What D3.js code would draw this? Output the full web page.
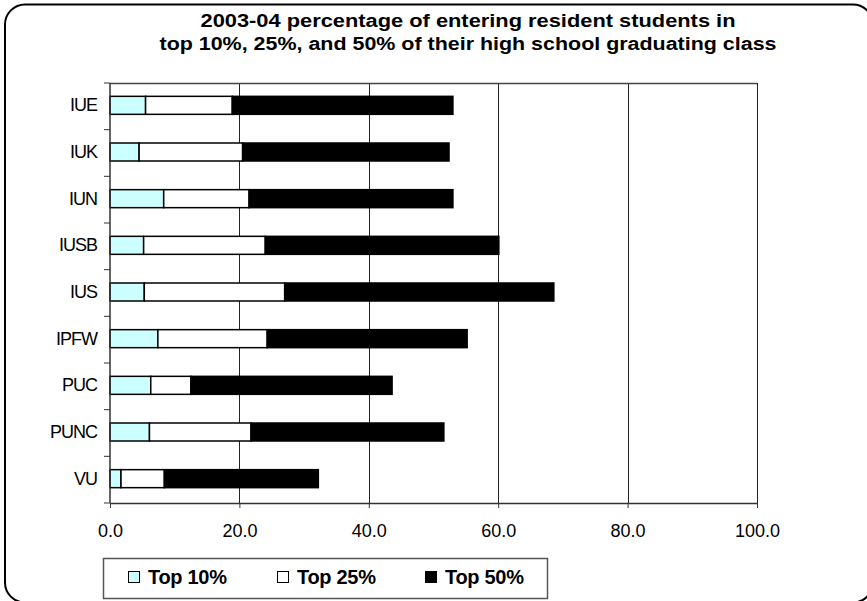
<!DOCTYPE html>
<html><head><meta charset="utf-8">
<script src="https://cdn.jsdelivr.net/npm/d3@7"></script>
<style>body{margin:0;background:#fff}svg{display:block}</style>
</head><body>
<svg id="c" width="867" height="601"></svg>
<script>
const categories = ["IUE","IUK","IUN","IUSB","IUS","IPFW","PUC","PUNC","VU"];
const seriesNames = ["Top 10%","Top 25%","Top 50%"];
const top10 = [5.5, 4.5, 8.3, 5.2, 5.3, 7.4, 6.3, 6.1, 1.7];
const top25 = [13.4, 16.0, 13.2, 18.8, 21.7, 16.9, 6.2, 15.7, 6.7];
const top50 = [34.1, 31.9, 31.5, 36.1, 41.6, 30.9, 31.1, 29.8, 23.8];
const xTicks = [0, 20, 40, 60, 80, 100];
const titleLines = ["2003-04 percentage of entering resident students in",
                    "top 10%, 25%, and 50% of their high school graduating class"];
const colors = ["#CCFFFF", "#FFFFFF", "#000000"];

const rows = categories.map((c, i) => ({cat: c, "Top 10%": top10[i], "Top 25%": top25[i], "Top 50%": top50[i]}));
const stacked = d3.stack().keys(seriesNames)(rows);

const svg = d3.select("#c");
const L = 110, R = 757, T = 83, B = 503;
const x = d3.scaleLinear().domain([0, 100]).range([L, R]);
const y = d3.scaleBand().domain(categories).range([T, B]).padding(0);
const barH = 18;

// outer rounded border
svg.append("rect").attr("x", 5).attr("y", 4.5).attr("width", 868).attr("height", 598)
  .attr("rx", 20).attr("fill", "none").attr("stroke", "#000").attr("stroke-width", 2);

// title
const titleW = [535, 617];
svg.append("g").selectAll("text").data(titleLines).join("text")
  .attr("x", 468).attr("y", (d, i) => 27 + i * 23)
  .attr("text-anchor", "middle").attr("font-family", "Liberation Sans, Arial, sans-serif")
  .attr("font-weight", "bold").attr("font-size", 18)
  .attr("textLength", (d, i) => titleW[i]).attr("lengthAdjust", "spacingAndGlyphs")
  .text(d => d);

// gridlines
svg.append("g").selectAll("line").data(xTicks.slice(1)).join("line")
  .attr("x1", d => Math.round(x(d)) + 0.5).attr("x2", d => Math.round(x(d)) + 0.5)
  .attr("y1", T).attr("y2", B).attr("stroke", "#222").attr("stroke-width", 1);
// top border of plot
svg.append("line").attr("x1", L).attr("x2", R).attr("y1", T + 0.5).attr("y2", T + 0.5)
  .attr("stroke", "#444").attr("stroke-width", 1.5);

// bars
svg.append("g").selectAll("g").data(stacked).join("g")
  .attr("fill", (d, i) => colors[i])
  .selectAll("rect").data(d => d).join("rect")
  .attr("x", d => x(d[0])).attr("width", d => x(d[1]) - x(d[0]))
  .attr("y", d => y(d.data.cat) + y.bandwidth() / 2 - barH / 2 - 1).attr("height", barH)
  .attr("stroke", "#000").attr("stroke-width", 1.5);

// bottom axis
const xAxis = d3.axisBottom(x).tickValues(xTicks).tickFormat(d3.format(".1f")).tickSizeInner(5).tickSizeOuter(0).tickPadding(16);
const gx = svg.append("g").attr("transform", `translate(0,${B})`).call(xAxis);
gx.select(".domain").attr("stroke", "#333").attr("stroke-width", 1.5);
gx.selectAll(".tick line").attr("stroke", "#333");
gx.selectAll("text").attr("font-family", "Liberation Sans, Arial, sans-serif").attr("font-size", 18).attr("fill", "#000");

// left axis
const gy = svg.append("g").attr("transform", `translate(${L},0)`);
gy.append("line").attr("x1", 0).attr("x2", 0).attr("y1", T).attr("y2", B).attr("stroke", "#333").attr("stroke-width", 1.5);
const bounds = categories.map(c => y(c)).concat([B]);
gy.selectAll("line.tk").data(bounds).join("line").attr("class", "tk")
  .attr("x1", -6).attr("x2", 0).attr("y1", d => d).attr("y2", d => d).attr("stroke", "#333");
gy.selectAll("text").data(categories).join("text")
  .attr("x", -13).attr("y", d => y(d) + y.bandwidth() / 2 + 5)
  .attr("text-anchor", "end").attr("font-family", "Liberation Sans, Arial, sans-serif")
  .attr("font-size", 18).attr("letter-spacing", -1).text(d => d);

// legend
const lg = svg.append("g");
lg.append("rect").attr("x", 103.5).attr("y", 558.5).attr("width", 444).attr("height", 40)
  .attr("fill", "#fff").attr("stroke", "#555").attr("stroke-width", 1.5);
const lx = [128, 277, 425];
const items = lg.selectAll("g").data(seriesNames).join("g")
  .attr("transform", (d, i) => `translate(${lx[i]},0)`);
items.append("rect").attr("x", 0.5).attr("y", 571.5).attr("width", 11).attr("height", 11)
  .attr("fill", (d, i) => colors[i]).attr("stroke", "#000").attr("stroke-width", 1);
items.append("text").attr("x", 20).attr("y", 584)
  .attr("font-family", "Liberation Sans, Arial, sans-serif").attr("font-weight", "bold")
  .attr("font-size", 20).attr("letter-spacing", -0.3).text(d => d);
</script>
</body></html>
